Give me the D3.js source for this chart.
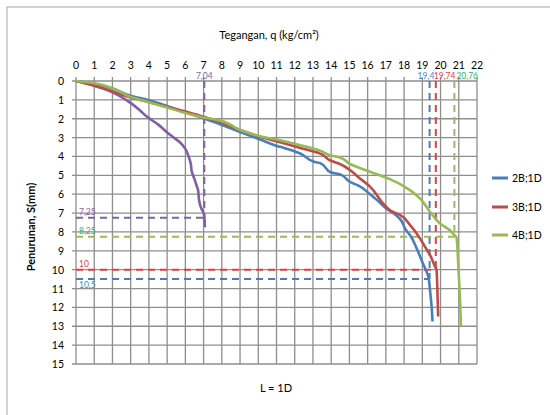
<!DOCTYPE html>
<meta charset="utf-8">
<script src="https://d3js.org/d3.v7.min.js"></script>
<style>
  body { margin: 0; background: #fff; }
  text { font-family: Lato, "Liberation Sans", sans-serif; fill: #000; }
</style>
<div id="my_dataviz"></div>
<script>

// data (q = tegangan kg/cm2, s = penurunan mm)
var seriesNames = ["2B;1D", "3B;1D", "4B;1D"];
var seriesColors = ["#4a7ebb", "#be4b48", "#98b954"];

var blue = [[0,0],[1,0.15],[2,0.4],[3,0.78],[4,1.02],[5,1.33],[6,1.65],[7,1.97],[7.9,2.29],[9,2.7],[10.1,3.1],[10.9,3.4],[11.2,3.49],[12.3,3.84],[13.1,4.29],[13.4,4.35],[14,4.85],[14.5,4.95],[15.03,5.35],[15.5,5.55],[16.13,6.0],[16.5,6.3],[16.95,6.7],[17.4,7.0],[17.77,7.3],[18.1,7.9],[18.32,8.16],[18.69,8.87],[19.0,9.6],[19.33,10.37],[19.42,11.07],[19.51,11.96],[19.56,12.75]];
var red = [[0,0],[1,0.25],[2,0.55],[3,0.88],[4,1.12],[5,1.38],[6,1.62],[7,1.9],[8,2.2],[9,2.6],[10.1,2.95],[11.2,3.25],[12.3,3.55],[13.4,3.85],[13.93,4.2],[14.48,4.4],[15.03,4.72],[15.5,5.1],[16.13,5.6],[16.95,6.6],[17.3,6.9],[17.77,7.1],[18.32,7.63],[18.87,8.34],[19.14,8.78],[19.42,9.22],[19.7,9.84],[19.78,10.0],[19.82,10.9],[19.87,12.48]];
var green = [[0,0],[1,0.12],[2,0.38],[3,0.85],[4,1.12],[5,1.4],[6,1.7],[7,1.93],[7.9,2.1],[9,2.6],[10.1,2.93],[11.2,3.14],[12.3,3.4],[13.4,3.7],[13.93,3.93],[14.48,4.05],[15.03,4.4],[16.13,4.81],[17.22,5.2],[18.32,5.78],[18.87,6.22],[19.42,6.93],[19.97,7.55],[20.5,7.9],[20.79,8.2],[20.88,8.3],[20.97,9.66],[21.06,11.42],[21.12,13.0]];
var purple = [[0,0],[0.5,0.1],[0.95,0.23],[1.5,0.4],[2.0,0.6],[2.5,0.85],[3.05,1.2],[3.5,1.55],[3.9,1.9],[4.5,2.3],[4.97,2.7],[5.3,2.95],[5.7,3.25],[6.0,3.6],[6.16,3.95],[6.3,4.4],[6.35,4.8],[6.5,5.2],[6.6,5.5],[6.7,5.8],[6.75,6.3],[6.85,6.7],[7.0,7.0],[7.05,7.3],[7.07,7.75]];

// ultimate load markers
var refQ = [7.04, 19.4, 19.74, 20.76];
var refS = [7.25, 10.5, 10, 8.25];
var refQLabels = ["7,04", "19,4", "19,74", "20,76"];
var refSLabels = ["7,25", "10,5", "10", "8,25"];
var refColors = ["#8064a2", "#4a7ebb", "#e0403c", "#9bbb59"];
var refLabelColors = ["#8064a2", "#3b8ad8", "#e8403a", "#2fb26a"];

var xTicks = d3.range(0, 23);
var yTicks = d3.range(0, 16);

var margin = {top: 81, left: 76},
    width = 401,
    height = 283;

var svg = d3.select("#my_dataviz")
  .append("svg")
    .attr("width", 550)
    .attr("height", 415);

// chart border
svg.append("rect")
  .attr("x", 7).attr("y", 7)
  .attr("width", 600).attr("height", 500)
  .attr("fill", "none")
  .attr("stroke", "#a6a6a6")
  .attr("stroke-width", 1);

var g = svg.append("g")
  .attr("transform", "translate(" + margin.left + "," + margin.top + ")");

var x = d3.scaleLinear().domain([0, 22]).range([0, width]);
var y = d3.scaleLinear().domain([0, 15]).range([0, height]);

// grid
g.append("g").selectAll("line").data(xTicks).enter().append("line")
  .attr("x1", d => x(d)).attr("x2", d => x(d))
  .attr("y1", -4).attr("y2", height)
  .attr("stroke", "#8e8e8e").attr("stroke-width", 1.3);
g.append("g").selectAll("line").data(yTicks).enter().append("line")
  .attr("y1", d => y(d)).attr("y2", d => y(d))
  .attr("x1", -4).attr("x2", width)
  .attr("stroke", "#8e8e8e").attr("stroke-width", 1.3);

// tick labels
g.append("g").selectAll("text").data(xTicks).enter().append("text")
  .attr("x", d => x(d)).attr("y", -12)
  .attr("text-anchor", "middle")
  .style("font-size", "10.5px")
  .text(d => d);
g.append("g").selectAll("text").data(yTicks).enter().append("text")
  .attr("x", -12).attr("y", d => y(d) + 4)
  .attr("text-anchor", "end")
  .style("font-size", "10.5px")
  .text(d => d);

// dashed reference lines
refQ.forEach(function(q, i) {
  g.append("line")
    .attr("x1", x(q)).attr("x2", x(q))
    .attr("y1", y(0)).attr("y2", y(refS[i]))
    .attr("stroke", refColors[i]).attr("stroke-width", 2)
    .attr("stroke-dasharray", "7,5");
  g.append("line")
    .attr("x1", x(0)).attr("x2", x(q))
    .attr("y1", y(refS[i])).attr("y2", y(refS[i]))
    .attr("stroke", refColors[i]).attr("stroke-width", 2)
    .attr("stroke-dasharray", "7,5");
});

// reference labels
var topDx = [0, -12, -2, 2];
refQLabels.forEach(function(t, i) {
  g.append("text")
    .attr("x", x(refQ[i]) + topDx[i]).attr("y", -2)
    .attr("text-anchor", i == 0 ? "middle" : "start")
    .style("font-size", "8.5px")
    .style("fill", refLabelColors[i])
    .text(t);
});
refSLabels.forEach(function(t, i) {
  var below = i == 1;
  g.append("text")
    .attr("x", 3).attr("y", y(refS[i]) + (below ? 9 : -3))
    .style("font-size", "8.5px")
    .style("fill", refLabelColors[i])
    .text(t);
});

// series lines
var line = d3.line()
  .x(d => x(d[0]))
  .y(d => y(d[1]))
  .curve(d3.curveMonotoneY);

[purple, blue, red, green].forEach(function(data, i) {
  var c = i == 0 ? "#7f5fa6" : seriesColors[i - 1];
  g.append("path")
    .datum(data)
    .attr("fill", "none")
    .attr("stroke", c)
    .attr("stroke-width", 2.6)
    .attr("stroke-linejoin", "round")
    .attr("d", line);
});

// titles
svg.append("text")
  .attr("x", 269).attr("y", 39)
  .attr("text-anchor", "middle")
  .style("font-size", "11px")
  .text("Tegangan, q (kg/cm²)");

svg.append("text")
  .attr("transform", "translate(35,227) rotate(-90)")
  .attr("text-anchor", "middle")
  .style("font-size", "11px")
  .style("font-weight", "bold")
  .text("Penurunan, S(mm)");

svg.append("text")
  .attr("x", 276).attr("y", 392)
  .attr("text-anchor", "middle")
  .style("font-size", "11px")
  .text("L = 1D");

// legend
var legY = [178, 207, 235];
seriesNames.forEach(function(n, i) {
  svg.append("line")
    .attr("x1", 492).attr("x2", 508)
    .attr("y1", legY[i]).attr("y2", legY[i])
    .attr("stroke", seriesColors[i]).attr("stroke-width", 3);
  svg.append("text")
    .attr("x", 512).attr("y", legY[i] + 4)
    .style("font-size", "10.5px")
    .text(n);
});

</script>
